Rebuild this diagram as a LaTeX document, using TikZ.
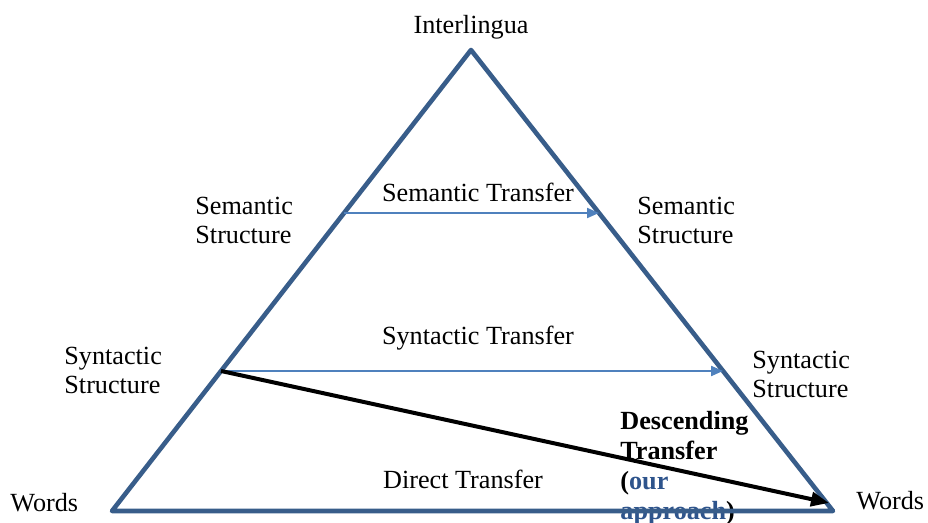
\documentclass[tikz,border=0pt]{standalone}
\usepackage{fontspec}
\setmainfont{Liberation Serif}
\usepackage{xcolor}
\usepackage{tikz}
\usetikzlibrary{arrows.meta,positioning,calc}
\definecolor{edgeblue}{RGB}{56,93,138}
\definecolor{arrowblue}{RGB}{79,129,189}
\definecolor{oursblue}{RGB}{46,84,140}

\begin{document}
\begin{tikzpicture}[
    x=0.5pt, y=-0.5pt,
    lbl/.style={inner sep=0pt, align=left, font=\fontsize{13.1}{14.5}\selectfont},
    boldlbl/.style={inner sep=0pt, align=left, font=\fontsize{13.1}{15}\selectfont\bfseries},
    side/.style={draw=edgeblue, line width=2.3pt, line join=round},
    transfer/.style={draw=arrowblue, line width=1pt, -{Triangle[length=6pt,width=5pt]}},
    descarrow/.style={draw=black, line width=2pt, -{Triangle[length=9pt,width=7pt]}},
]
    \useasboundingbox (0,0) rectangle (928,523);

    % Triangle
    \coordinate (top) at (471,50);
    \coordinate (bl) at (112,511);
    \coordinate (br) at (833,511);
    \coordinate (semL) at ($(top)!0.3536!(bl)$);
    \coordinate (semR) at ($(top)!0.3536!(br)$);
    \coordinate (synL) at ($(top)!0.6963!(bl)$);
    \coordinate (synR) at ($(top)!0.6963!(br)$);
    \coordinate (descend) at (829,503);

    % Labels
    \node[lbl] (interlingua) at (471,27) {Interlingua};
    \node[lbl, anchor=west] (semleft) at (195,220.5) {Semantic\\Structure};
    \node[lbl, anchor=west] (semright) at (637,220.5) {Semantic\\Structure};
    \node[lbl, anchor=west] (synleft) at (64,370) {Syntactic\\Structure};
    \node[lbl, anchor=west] (synright) at (752,374) {Syntactic\\Structure};
    \node[lbl, anchor=west] (wordsleft) at (10,503) {Words};
    \node[lbl, anchor=west] (wordsright) at (856,501) {Words};
    \node[lbl] (semtrans) at (478,192) {Semantic Transfer};
    \node[lbl] (syntrans) at (478,338) {Syntactic Transfer};
    \node[lbl] (direct) at (463,479) {Direct Transfer};
    \node[boldlbl, anchor=west] (desc) at (620,468.5) {Descending\\Transfer\\(\textcolor{oursblue}{our}\\\textcolor{oursblue}{approach})};

    % Sides
    \draw[side] (top) -- (bl) -- (br) -- cycle;

    % Arrows
    \draw[transfer] (semL) -- (semR);
    \draw[transfer] (synL) -- (synR);
    \draw[descarrow] (synL) -- (descend);
\end{tikzpicture}
\end{document}
